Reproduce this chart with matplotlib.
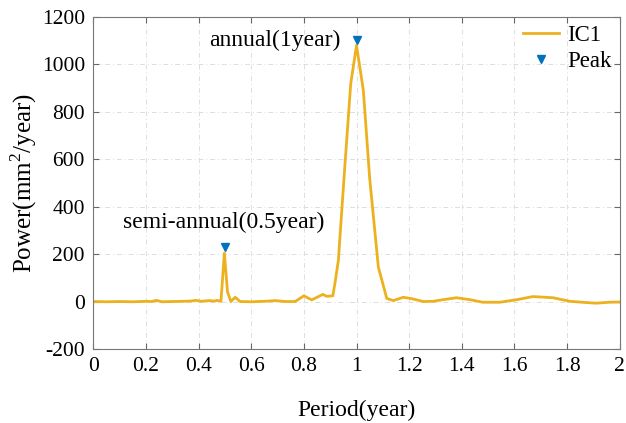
import numpy as np
import matplotlib.pyplot as plt

plt.rcParams['font.family'] = ['Liberation Serif', 'DejaVu Serif']
plt.rcParams['mathtext.fontset'] = 'custom'
plt.rcParams['mathtext.rm'] = 'Liberation Serif'
plt.rcParams['axes.unicode_minus'] = False

# period (year) and power (mm^2/year)
period = [0.0, 0.05, 0.10, 0.15, 0.20, 0.22, 0.24, 0.26, 0.30, 0.34, 0.37, 0.39, 0.41,
          0.44, 0.46, 0.47, 0.485, 0.498, 0.51, 0.523, 0.539, 0.558, 0.60, 0.65,
          0.69, 0.73, 0.767, 0.80, 0.83, 0.872, 0.887, 0.91, 0.918, 0.931, 0.955,
          0.978, 1.0, 1.026, 1.05, 1.083, 1.115, 1.14, 1.178, 1.21, 1.254, 1.29,
          1.33, 1.38, 1.43, 1.48, 1.545, 1.61, 1.67, 1.747, 1.81, 1.87, 1.91, 1.96, 2.0]
power = [0, -1, 0, -1, 1, 0, 5, -1, 0, 1, 2, 5, 1,
         4, 2, 5, 1, 204, 40, 0, 18, 0, -1, 1,
         4, 0, 0, 24, 7, 30, 22, 24, 76, 173, 560,
         918, 1080, 890, 520, 145, 13, 4, 18, 12, 0, 1,
         8, 16, 8, -3, -3, 8, 21, 16, 1, -4, -7, -3, -2]

peak_x = [0.5, 1.0]
peak_y = [228, 1101]

fig, ax = plt.subplots(figsize=(6.26, 4.23), dpi=100)
fig.subplots_adjust(left=0.149, right=0.99, top=0.96, bottom=0.175)

ax.plot(period, power, color='#EDB120', lw=2, label='IC1')
ax.plot(peak_x, peak_y, 'v', color='#0072BD', ms=6, label='Peak')

ax.text(0.94, 1100, 'annual(1year)', ha='right', va='center', fontsize=17)
ax.text(0.497, 333, 'semi-annual(0.5year)', ha='center', va='center', fontsize=17)

ax.set_xlim(0, 2)
ax.set_ylim(-200, 1200)
ax.set_xticks(np.arange(0, 2.01, 0.2))
ax.set_xticklabels(['0', '0.2', '0.4', '0.6', '0.8', '1', '1.2', '1.4', '1.6', '1.8', '2'])
ax.set_yticks(np.arange(-200, 1201, 200))
ax.tick_params(direction='in', top=True, right=True, labelsize=15.5, length=4,
               color='#666666', pad=6)
for s in ax.spines.values():
    s.set_color('#777777')
    s.set_linewidth(0.8)
ax.grid(True, ls=(0, (5, 3, 1, 3)), color='#dddddd', lw=0.7)

ax.set_xlabel('Period(year)', fontsize=17, labelpad=17)
ax.set_ylabel('Power(mm$^2$/year)', fontsize=18, labelpad=2)

ax.legend(loc='upper right', frameon=False, fontsize=16.5, handlelength=1.6,
          borderaxespad=-0.05, labelspacing=0.2, handletextpad=0.35,
          bbox_to_anchor=(1.0, 1.0))

fig.savefig('out.png', dpi=100)
